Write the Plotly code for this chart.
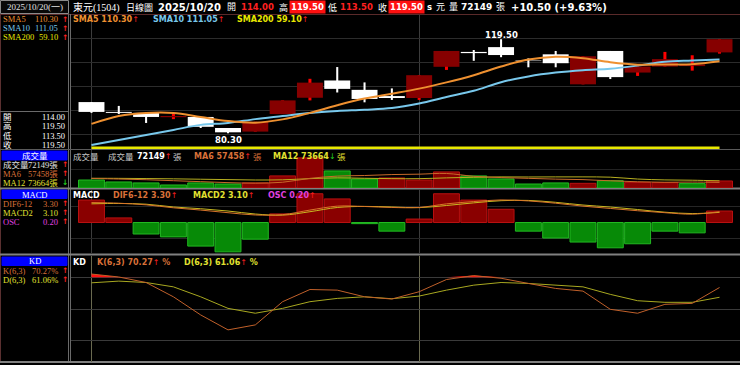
import numpy as np
import plotly.graph_objects as go

W, H = 740, 365

# ---------------- data ----------------
opens  = [93.3, 89.2, 88.8, 87.0, 87.1, 82.5, 81.0, 88.3, 95.1, 102.3, 98.4, 95.8,
          95.0, 108.0, 114.2, 116.2, 110.6, 113.2, 100.7, 114.6, 105.6, 108.1, 108.3, 114.0]
highs  = [93.3, 91.7, 88.8, 88.8, 87.1, 82.5, 85.1, 94.0, 103.0, 107.9, 101.5, 99.0,
          104.5, 114.6, 115.0, 119.5, 111.5, 114.6, 112.4, 114.6, 108.1, 114.2, 112.8, 119.5]
lows   = [88.8, 88.3, 84.6, 86.2, 82.5, 80.3, 81.0, 88.3, 94.0, 97.3, 93.2, 94.2,
          94.2, 106.7, 110.5, 112.0, 107.8, 107.8, 100.7, 102.9, 104.2, 108.1, 106.4, 113.5]
closes = [89.2, 88.8, 87.1, 87.5, 83.0, 80.7, 85.1, 94.0, 101.4, 98.8, 94.6, 95.0,
          104.5, 114.6, 113.7, 112.9, 110.4, 109.5, 112.4, 103.7, 108.1, 111.2, 109.0, 119.5]

sma5   = [84.2, 87.5, 88.8, 88.8, 87.1, 85.4, 84.7, 86.1, 88.8, 92.0, 94.8, 96.8,
          98.9, 101.5, 104.5, 108.1, 111.0, 112.2, 111.6, 109.9, 108.9, 109.0, 109.1, 110.3]
sma10  = [75.4, 77.5, 79.6, 81.7, 83.8, 84.6, 86.2, 87.5, 88.8, 89.6, 90.1, 90.8,
          92.7, 95.4, 98.0, 101.6, 104.0, 105.6, 106.6, 107.2, 108.5, 110.1, 110.6, 111.05]
sma200 = [55.6, 55.8, 55.9, 56.1, 56.2, 56.3, 56.5, 56.6, 56.8, 57.0, 57.1, 57.3,
          57.4, 57.6, 57.8, 57.9, 58.1, 58.2, 58.4, 58.5, 58.7, 58.8, 58.9, 59.1]

volume = [82000, 62000, 52000, 31000, 52000, 41000, 52000, 124000, 309000, 175000, 93000, 103000,
          82000, 165000, 124000, 93000, 41000, 52000, 48000, 75000, 58000, 55000, 45000, 72149]
vol_up = [0, 0, 0, 0, 0, 0, 1, 1, 1, 0, 0, 1, 1, 1, 0, 0, 0, 0, 1, 0, 1, 1, 0, 1]
vol_ma6  = [98000, 92000, 85000, 75000, 65000, 55000, 50000, 59000, 99000, 122000, 128000, 138000,
            142000, 149000, 120000, 107000, 99000, 91000, 86000, 74000, 64000, 59000, 61000, 57458]
vol_ma12 = [100000, 99000, 97000, 94000, 90000, 86000, 82000, 84000, 96000, 104000, 100000, 96000,
            96000, 104000, 110000, 114000, 113000, 114000, 114000, 111000, 92000, 83000, 80000, 73664]

dif   = [6.1, 5.9, 5.4, 4.5, 3.8, 3.0, 2.3, 2.4, 3.8, 5.0, 4.9, 4.6,
         4.6, 5.7, 6.4, 6.9, 6.6, 5.9, 5.0, 4.3, 3.6, 3.0, 2.55, 3.3]
macd2 = [5.71, 5.82, 5.6, 4.75, 4.21, 3.51, 2.59, 2.25, 3.3, 4.59, 4.92, 4.75,
         4.54, 5.2, 6.01, 6.67, 6.75, 6.17, 5.34, 4.74, 3.97, 3.15, 2.73, 3.1]
osc   = [0.39, 0.08, -0.20, -0.25, -0.41, -0.51, -0.29, 0.15, 0.50, 0.41, -0.02, -0.15,
         0.06, 0.50, 0.39, 0.23, -0.15, -0.27, -0.34, -0.44, -0.37, -0.15, -0.18, 0.20]

k_val = [83.0, 80.2, 75.0, 61.5, 44.4, 30.3, 35.0, 56.9, 68.4, 67.8, 61.5, 59.4,
         66.3, 77.8, 81.5, 79.0, 74.1, 69.4, 66.9, 49.7, 46.0, 54.4, 55.3, 70.27]
d_val = [74.7, 76.3, 75.0, 70.9, 61.5, 50.6, 46.0, 50.6, 56.9, 60.0, 61.5, 59.7,
         62.2, 67.8, 72.5, 75.0, 74.1, 72.5, 70.9, 63.8, 57.8, 56.3, 56.3, 61.06]

price_ticks = [80, 90, 100, 110, 120]
kd_ticks = [20, 50, 80]
month_idx = [0, 12]

# ---------------- helpers ----------------
N = len(closes)
idx = np.arange(N)
o, h, l, c = map(np.array, (opens, highs, lows, closes))
up = c > o

def ydom(top, bot):
    return [1 - bot / H, 1 - top / H]

PRICE_RANGE = [73.75, 129.583]
VOL_RANGE = [0, 390000]
HIST_RANGE = [-(253.5 - 222.5) / 57.5, (222.5 - 190) / 57.5]
LINE_RANGE = [-(253.5 - 222.5) / 3.27, (222.5 - 190) / 3.27]

SERIF = "Liberation Serif, 'Noto Sans CJK TC', serif"
SANS = "'DejaVu Sans', 'Noto Sans CJK TC', sans-serif"
ORANGE = '#ee9030'
BLUE_L = '#78c8ec'
YELLOW = '#e8e800'
ORG2 = '#d87038'
YEL2 = '#e0e030'
MAG = '#e040e0'
RED = '#ff2020'
UP = "<span style='color:#ff2020'>↑</span>"
DN = "<span style='color:#20d020'>↓</span>"

fig = go.Figure()

def bar(x, base, hgt, color, width, xa, ya, lcolor=None, lw=0):
    fig.add_trace(go.Bar(x=x, y=hgt, base=base, width=width,
                         marker=dict(color=color, line=dict(color=lcolor or color, width=lw)),
                         xaxis=xa, yaxis=ya, hoverinfo='skip', showlegend=False))

def line(x, y, color, width, xa, ya, shape='linear', **kw):
    fig.add_trace(go.Scatter(x=x, y=y, mode='lines', line=dict(color=color, width=width, shape=shape),
                             xaxis=xa, yaxis=ya, hoverinfo='skip', showlegend=False, **kw))

# ---- price panel ----
dn = ~up
bar(idx[dn], l[dn], (h - l)[dn], '#ffffff', 0.075, 'x', 'y')
bar(idx[up], l[up], (h - l)[up], '#ff0000', 0.11, 'x', 'y')
bar(idx[dn], np.minimum(o, c)[dn], np.abs(c - o)[dn], '#ffffff', 0.95, 'x', 'y')
bar(idx[up], np.minimum(o, c)[up], np.abs(c - o)[up], '#860000', 0.95, 'x', 'y')

line(idx, np.maximum(np.array(sma200), PRICE_RANGE[0] + 0.5), YELLOW, 2.5, 'x', 'y')
line(idx, sma10, BLUE_L, 2, 'x', 'y', 'spline')
line(idx, sma5, ORANGE, 2, 'x', 'y', 'spline')

# ---- volume panel ----
vu = np.array(vol_up) == 1
vol = np.array(volume)
bar(idx[vu], 0, vol[vu], '#8a0000', 0.95, 'x2', 'y2', '#b81010', 1)
bar(idx[~vu], 0, vol[~vu], '#078a07', 0.95, 'x2', 'y2', '#22b822', 1)
line(idx, vol_ma12, '#b8b020', 1, 'x2', 'y2', 'spline')
line(idx, vol_ma6, '#c86a2a', 1, 'x2', 'y2', 'spline')

# ---- MACD panel ----
os_ = np.array(osc)
pos = os_ >= 0
bar(idx[pos], 0, os_[pos], '#8a0000', 0.95, 'x3', 'y3', '#b81010', 1)
bar(idx[~pos], 0, os_[~pos], '#078a07', 0.95, 'x3', 'y3', '#22b822', 1)
line(idx, macd2, '#c8b820', 1, 'x3', 'y4', 'spline')
line(idx, dif, '#d8742a', 1, 'x3', 'y4', 'spline')

# ---- KD panel ----
kk = np.array(k_val)
line(idx, [kd_ticks[-1]] * N, 'rgba(0,0,0,0)', 0, 'x4', 'y5')
line(idx, np.maximum(kk, kd_ticks[-1]), 'rgba(0,0,0,0)', 0, 'x4', 'y5', fill='tonexty', fillcolor='#ff1010')
line(idx, d_val, '#a8a820', 1, 'x4', 'y5')
line(idx, k_val, '#c0602a', 1, 'x4', 'y5')

# ---------------- axes ----------------
def xax(anchor, grid):
    return dict(range=[-0.75, 23.75], domain=[71 / W, 1], anchor=anchor, showticklabels=False,
                zeroline=False, showline=False, ticks='', tickvals=month_idx, showgrid=True,
                gridcolor=grid, gridwidth=1, fixedrange=True)

def yax(rng, dom, tickvals=None, grid='#2c2c2c', anchor='x'):
    d = dict(range=rng, domain=dom, anchor=anchor, showticklabels=False, zeroline=False,
             showline=False, ticks='', fixedrange=True)
    if tickvals:
        d.update(tickvals=tickvals, showgrid=True, gridcolor=grid, gridwidth=1)
    else:
        d.update(showgrid=False)
    return d

layout = dict(
    width=W, height=H, autosize=False, margin=dict(l=0, r=0, t=0, b=0, pad=0),
    paper_bgcolor='#000000', plot_bgcolor='rgba(0,0,0,0)', barmode='overlay',
    hovermode=False, showlegend=False,
    xaxis=xax('y', '#3c3c3c'),
    xaxis2=xax('y2', '#3c3c3c'),
    xaxis3=xax('y3', '#3c3c3c'),
    xaxis4=xax('y5', '#6a6a50'),
    yaxis=yax(PRICE_RANGE, ydom(15, 149), price_ticks, '#2c2c2c', 'x'),
    yaxis2=yax(VOL_RANGE, ydom(150, 188), [185000], '#222222', 'x2'),
    yaxis3=yax(HIST_RANGE, ydom(190, 253.5), [-0.27, 0.27], '#262626', 'x3'),
    yaxis4=dict(range=LINE_RANGE, overlaying='y3', anchor='x3', showticklabels=False,
                showgrid=False, zeroline=False, ticks='', fixedrange=True),
    yaxis5=yax([0, 100], ydom(256, 362), kd_ticks, '#3a3a3a', 'x4'),
)
fig.update_layout(**layout)

# ---------------- frame shapes ----------------
shapes = []
def hline(y, x0, x1, color, w=1):
    shapes.append(dict(type='line', xref='paper', yref='paper', x0=x0 / W, x1=x1 / W,
                       y0=1 - y / H, y1=1 - y / H, line=dict(color=color, width=w), layer='below'))
def vline(x, y0, y1, color, w=1):
    shapes.append(dict(type='line', xref='paper', yref='paper', x0=x / W, x1=x / W,
                       y0=1 - y0 / H, y1=1 - y1 / H, line=dict(color=color, width=w), layer='below'))
def rect(x0, y0, x1, y1, fill, lc=None):
    shapes.append(dict(type='rect', xref='paper', yref='paper', x0=x0 / W, x1=x1 / W,
                       y0=1 - y1 / H, y1=1 - y0 / H, fillcolor=fill,
                       line=dict(color=lc or fill, width=1), layer='below'))

rect(0.5, 0.5, 68.5, 13.5, '#080808', '#8a8a8a')
hline(14.5, 0, W, '#5a2a2a')
vline(0.5, 14, 362, '#5a3030')
vline(68.5, 14, 362, '#6a6a6a')
vline(70.5, 14, 362, '#6a6a6a')
hline(111.5, 0, 68, '#6a6a6a')
hline(149.5, 0, W, '#5a5a5a')
hline(188.5, 0, W, '#808080', 2)
hline(254.5, 0, W, '#808080', 2)
hline(362, 0, W, '#808080', 2)
rect(2, 151, 67, 160, '#0000ff')
rect(2, 190, 67, 198.5, '#0000ff')
rect(2, 257, 67, 265.5, '#0000ff')
fig.update_layout(shapes=shapes)

# ---------------- texts ----------------
anns = []
def T(x, y, text, color='#ffffff', size=9, fam=SERIF, xa='left', bg=None):
    d = dict(x=x / W, y=1 - y / H, xref='paper', yref='paper', text=text, showarrow=False,
             xanchor=xa, yanchor='middle', font=dict(family=fam, size=size, color=color),
             borderpad=1)
    if bg:
        d['bgcolor'] = bg
    anns.append(d)

# header row
T(34.5, 7.5, "2025/10/20(一)", '#e0e0e0', 9, SERIF, 'center')
T(71, 7.5, "東元(1504)", '#ffffff', 10)
T(124, 7.5, "日線圖", '#ffffff', 9)
T(156, 7.5, "<b>2025/10/20</b>", '#ffffff', 10, SANS)
T(225, 7.5, "開", '#ffffff', 9)
T(239, 7.5, "<b>114.00</b>", RED, 8.5, SANS)
T(277, 7.5, "高", '#ffffff', 9)
T(289, 7.5, "<b>119.50</b>", '#ffffff', 8.5, SANS, bg='#ff1010')
T(326, 7.5, "低", '#ffffff', 9)
T(338, 7.5, "<b>113.50</b>", RED, 8.5, SANS)
T(376, 7.5, "收", '#ffffff', 9)
T(388, 7.5, "<b>119.50</b>", '#ffffff', 8.5, SANS, bg='#ff1010')
T(425, 7.5, "<b>s</b>", '#ffffff', 8.5, SANS)
T(434, 7.5, "元", '#ffffff', 9)
T(447, 7.5, "量", '#ffffff', 9)
T(459, 7.5, "<b>72149</b>", '#ffffff', 9, SANS)
T(494, 7.5, "張", '#ffffff', 9)
T(509, 7.5, "<b>+10.50 (+9.63%)</b>", '#ffffff', 10, SANS)

# price panel header
T(71, 19.5, "<b>SMA5 110.30</b>" + UP, ORANGE, 8, SANS)
T(151, 19.5, "<b>SMA10 111.05</b>" + UP, BLUE_L, 8, SANS)
T(235, 19.5, "<b>SMA200 59.10</b>" + UP, YELLOW, 8, SANS)

LS = 8.5  # left panel font size
AX = 60   # left panel arrow x
VX = 60   # left panel value right edge

def arrow(yy, ch=UP):
    T(AX, yy, "<b>" + ch + "</b>", RED, 7.5, SANS)

# left panel: SMA
for yy, lab, val, col in [(19, "SMA5", "110.30", ORANGE), (28, "SMA10", "111.05", BLUE_L),
                          (37, "SMA200", "59.10", YELLOW)]:
    T(1, yy, lab, col, LS)
    T(VX, yy, val, col, LS, SERIF, 'right')
    arrow(yy, "↑")

# left panel: OHLC
for yy, lab, val in [(117.5, "開", "114.00"), (126.5, "高", "119.50"),
                     (135.5, "低", "113.50"), (144.5, "收", "119.50")]:
    T(1, yy, lab, '#ffffff', LS)
    T(67, yy, val, '#ffffff', LS, SERIF, 'right')

# left panel: volume
T(34.5, 155.5, "成交量", '#ffffff', LS, SERIF, 'center')
for yy, lab, val, col, arr, acol in [(164.5, "成交量", "72149張", '#e0e0e0', "↑", RED),
                                     (173.5, "MA6", "57458張", ORG2, "↑", RED),
                                     (182.5, "MA12", "73664張", YEL2, "↓", '#20d020')]:
    T(1, yy, lab, col, LS)
    T(VX, yy, val, col, LS, SERIF, 'right')
    T(AX, yy, "<b>" + arr + "</b>", acol, 7.5, SANS)

# left panel: MACD
T(34.5, 194.5, "MACD", '#ffffff', LS, SERIF, 'center')
for yy, lab, val, col in [(203.5, "DIF6-12", "3.30", ORG2), (212.5, "MACD2", "3.10", YEL2),
                          (221.5, "OSC", "0.20", MAG)]:
    T(1, yy, lab, col, LS)
    T(VX, yy, val, col, LS, SERIF, 'right')
    arrow(yy, "↑")

# left panel: KD
T(34.5, 261, "KD", '#ffffff', LS, SERIF, 'center')
for yy, lab, val, col in [(270.5, "K(6,3)", "70.27%", ORG2), (279.5, "D(6,3)", "61.06%", YEL2)]:
    T(1, yy, lab, col, LS)
    T(VX, yy, val, col, LS, SERIF, 'right')
    arrow(yy, "↑")

# volume header
T(71, 156.5, "成交量", '#c8c8c8', 8.5)
T(106, 156.5, "成交量", '#c8c8c8', 8.5)
T(135, 156.5, "<b>72149</b>" + UP, '#ffffff', 8, SANS)
T(171, 156.5, "張", '#c8c8c8', 8.5)
T(192, 156.5, "<b>MA6 57458</b>" + UP, ORG2, 8, SANS)
T(251, 156.5, "張", ORG2, 8.5)
T(271, 156.5, "<b>MA12 73664</b>" + DN, YEL2, 8, SANS)
T(335, 156.5, "張", YEL2, 8.5)

# MACD header
T(71, 195.5, "<b>MACD</b>", '#ffffff', 8, SANS)
T(111, 195.5, "<b>DIF6-12 3.30</b>" + UP, ORG2, 8, SANS)
T(191, 195.5, "<b>MACD2 3.10</b>" + UP, YEL2, 8, SANS)
T(266, 195.5, "<b>OSC 0.20</b>" + UP, MAG, 8, SANS)

# KD header
T(71, 262.5, "<b>KD</b>", '#ffffff', 8, SANS)
T(95, 262.5, "<b>K(6,3) 70.27</b>" + UP + "<b> %</b>", ORG2, 8, SANS)
T(182, 262.5, "<b>D(6,3) 61.06</b>" + UP + "<b> %</b>", YEL2, 8, SANS)

# high / low labels tied to data
hi_i = int(np.argmax(h))
lo_i = int(np.argmin(l))
anns.append(dict(x=hi_i, y=h[hi_i], xref='x', yref='y', text=f"<b>{h[hi_i]:.2f}</b>",
                 showarrow=False, xanchor='center', yanchor='bottom', yshift=-3,
                 font=dict(family=SANS, size=8.5, color='#ffffff')))
anns.append(dict(x=lo_i, y=l[lo_i], xref='x', yref='y', text=f"<b>{l[lo_i]:.2f}</b>",
                 showarrow=False, xanchor='center', yanchor='top', yshift=0,
                 font=dict(family=SANS, size=8.5, color='#ffffff')))

fig.update_layout(annotations=anns)
fig.write_html("out.html", config={'displayModeBar': False, 'staticPlot': True})
